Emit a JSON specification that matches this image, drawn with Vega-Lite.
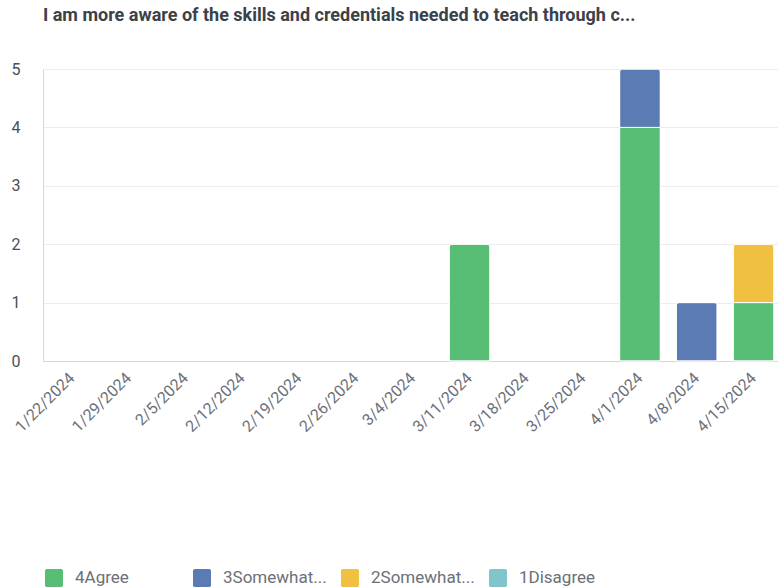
{
  "$schema": "https://vega.github.io/schema/vega-lite/v6.json",
  "autosize": {"type": "none"},
  "padding": {"left": 43, "top": 69, "right": 0, "bottom": 227},
  "width": 735,
  "height": 292,
  "background": "white",
  "title": {
    "text": "I am more aware of the skills and credentials needed to teach through c...",
    "anchor": "start",
    "frame": "group",
    "offset": 36,
    "font": "Roboto",
    "fontSize": 18,
    "fontWeight": "bold",
    "color": "#3b4148"
  },
  "data": {
    "values": [
      {"date": "3/11/2024", "response": "4Agree", "level": 4, "count": 2},
      {"date": "4/1/2024", "response": "4Agree", "level": 4, "count": 4},
      {"date": "4/1/2024", "response": "3Somewhat agree", "level": 3, "count": 1},
      {"date": "4/8/2024", "response": "3Somewhat agree", "level": 3, "count": 1},
      {"date": "4/15/2024", "response": "4Agree", "level": 4, "count": 1},
      {"date": "4/15/2024", "response": "2Somewhat disagree", "level": 2, "count": 1}
    ]
  },
  "mark": {
    "type": "bar",
    "cornerRadiusTopLeft": 3,
    "cornerRadiusTopRight": 3,
    "stroke": "white",
    "strokeWidth": 1
  },
  "encoding": {
    "x": {
      "field": "date",
      "type": "nominal",
      "scale": {
        "domain": ["1/22/2024", "1/29/2024", "2/5/2024", "2/12/2024", "2/19/2024", "2/26/2024", "3/4/2024", "3/11/2024", "3/18/2024", "3/25/2024", "4/1/2024", "4/8/2024", "4/15/2024"],
        "paddingInner": 0.283,
        "paddingOuter": 0.1115,
        "align": 0.68
      },
      "axis": {
        "title": null,
        "labelAngle": -45,
        "labelAlign": "right",
        "labelBaseline": "middle",
        "labelFont": "Roboto",
        "labelFontSize": 16,
        "labelColor": "#6b7079",
        "labelPadding": 14,
        "ticks": false,
        "domainColor": "#d6d6d6",
        "grid": false
      }
    },
    "y": {
      "field": "count",
      "type": "quantitative",
      "aggregate": "sum",
      "stack": "zero",
      "scale": {"domain": [0, 5], "nice": false},
      "axis": {
        "title": null,
        "values": [0, 1, 2, 3, 4, 5],
        "labelFont": "Roboto",
        "labelFontSize": 16,
        "labelColor": "#4a4f57",
        "labelPadding": 23,
        "ticks": false,
        "domainColor": "#d6d6d6",
        "gridColor": "#ececec",
        "labelBaseline": "middle"
      }
    },
    "color": {
      "field": "response",
      "type": "nominal",
      "scale": {
        "domain": ["4Agree", "3Somewhat agree", "2Somewhat disagree", "1Disagree"],
        "range": ["#58be75", "#5a7bb3", "#f0c040", "#80c5c9"]
      },
      "legend": {
        "title": null,
        "orient": "none",
        "legendX": 2,
        "legendY": 500,
        "direction": "horizontal",
        "columns": 4,
        "gridAlign": "all",
        "columnPadding": 14,
        "symbolType": "M -0.8 -1 L 0.8 -1 Q 1 -1 1 -0.8 L 1 0.8 Q 1 1 0.8 1 L -0.8 1 Q -1 1 -1 0.8 L -1 -0.8 Q -1 -1 -0.8 -1 Z",
        "symbolSize": 324,
        "symbolStrokeWidth": 0,
        "labelOffset": 12,
        "labelFont": "Roboto",
        "labelFontSize": 17,
        "labelColor": "#6b7079",
        "labelLimit": 300,
        "labelExpr": "length(datum.label) > 10 ? slice(datum.label, 0, 9) + '...' : datum.label"
      }
    },
    "order": {"field": "level", "type": "quantitative", "sort": "descending"}
  },
  "config": {
    "view": {"stroke": null}
  }
}
